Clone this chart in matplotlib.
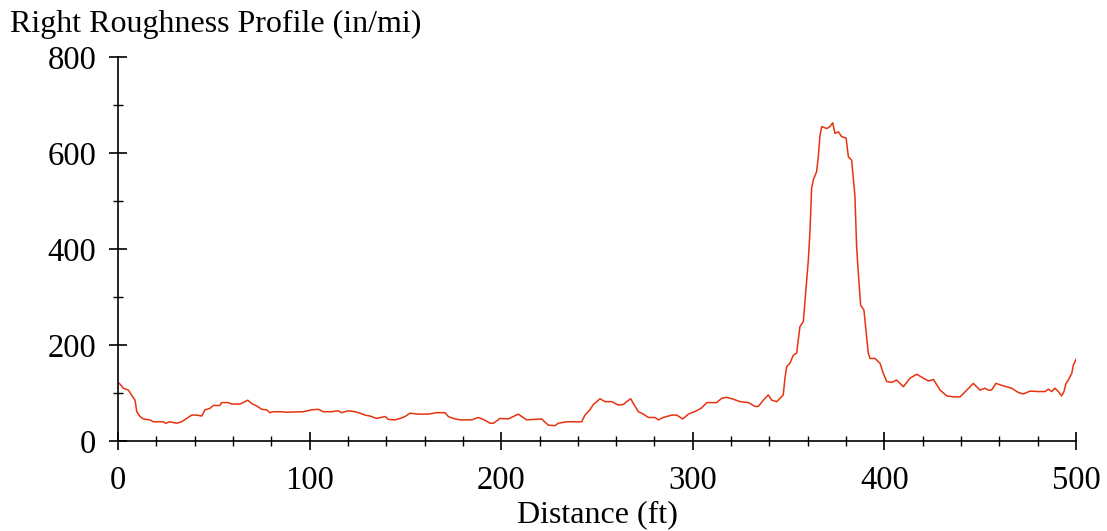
import matplotlib
matplotlib.use("Agg")
import matplotlib.pyplot as plt
from matplotlib.ticker import MultipleLocator

distance_ft = [0.7, 2.8, 5.4, 7.1, 8.9, 9.8, 11.5, 13.2, 16.7, 18.4, 23.6, 25.0, 27.1, 30.6, 33.2,
               35.8, 38.5, 41.0, 43.7, 45.4, 48.0, 49.7, 53.2, 54.1, 57.6, 59.3, 63.7, 66.3, 67.7,
               69.8, 72.4, 75.0, 77.6, 79.3, 81.0, 84.5, 88.0, 96.7, 101.1, 104.6, 107.2, 111.5,
               115.0, 116.7, 120.2, 123.7, 126.3, 128.9, 131.5, 135.0, 139.4, 141.1, 144.6, 147.2,
               149.8, 152.4, 156.7, 162.0, 166.3, 170.7, 172.4, 175.0, 178.5, 184.6, 188.0, 190.7,
               194.2, 195.9, 199.4, 203.7, 206.3, 208.9, 210.7, 213.3, 221.1, 224.6, 228.1, 229.8,
               234.2, 242.0, 243.7, 246.3, 248.1, 251.6, 254.2, 257.7, 261.1, 263.7, 265.5, 267.6,
               269.0, 271.6, 274.2, 276.8, 280.3, 282.0, 284.6, 289.0, 291.6, 294.7, 297.7, 302.0,
               304.6, 307.3, 312.4, 315.1, 317.7, 321.2, 324.6, 329.0, 332.5, 334.2, 336.8, 339.4,
               341.2, 343.8, 347.2, 348.1, 349.0, 350.7, 352.5, 354.2, 355.9, 357.7, 358.6, 360.3,
               361.2, 362.0, 362.9, 364.6, 365.5, 366.4, 367.3, 369.9, 371.6, 373.0, 374.2, 376.0,
               377.7, 380.0, 381.2, 382.9, 384.6, 385.5, 386.4, 387.6, 389.3, 390.4, 391.6, 392.5,
               395.1, 397.7, 399.4, 401.2, 403.8, 406.4, 409.9, 413.4, 416.9, 420.3, 423.0, 425.6,
               429.1, 432.5, 436.0, 439.5, 443.0, 446.4, 449.9, 452.5, 454.2, 455.9, 458.2, 462.0,
               466.4, 469.9, 472.5, 476.0, 480.3, 483.8, 485.6, 487.3, 489.0, 490.8, 492.5, 493.7,
               494.8, 496.0, 497.8, 498.6, 500.0]
roughness_in_mi = [120, 110, 106, 96, 85, 61, 51, 46, 44, 40, 40, 37, 40, 37, 40,
                   47, 54, 54, 52, 65, 68, 74, 74, 80, 80, 77, 77, 82, 85,
                   78, 73, 66, 65, 59, 61, 61, 60, 61, 65, 66, 61, 61,
                   63, 59, 63, 61, 58, 54, 52, 47, 51, 45, 44, 47,
                   51, 58, 56, 56, 59, 59, 51, 47, 44, 44, 49, 45,
                   37, 37, 47, 46, 51, 56, 51, 44, 46, 33, 32, 37,
                   40, 40, 54, 65, 76, 88, 82, 82, 75, 76, 82, 88,
                   78, 61, 56, 49, 49, 44, 49, 54, 54, 46, 56, 63,
                   69, 80, 80, 89, 91, 87, 82, 80, 72, 72, 85, 96,
                   85, 82, 96, 131, 155, 162, 179, 183, 238, 249, 294, 377,
                   440, 526, 544, 561, 592, 637, 655, 651, 655, 663, 641, 644,
                   634, 631, 592, 585, 512, 405, 349, 283, 273, 231, 183, 172,
                   172, 162, 141, 124, 122, 127, 113, 131, 139, 131, 125, 128,
                   106, 94, 92, 92, 106, 120, 106, 110, 106, 106, 120, 115,
                   110, 101, 98, 104, 103, 103, 108, 103, 110, 103, 94, 103,
                   120, 127, 141, 158, 170]

x_ticks = [0, 100, 200, 300, 400, 500]
y_ticks = [0, 200, 400, 600, 800]

fig = plt.figure(figsize=(11.07, 5.31), dpi=100)
W, H = 1107, 531
ax = fig.add_axes([118 / W, (H - 441) / H, (1076 - 118) / W, (441 - 57) / H])

ax.plot(distance_ft, roughness_in_mi, color="#e8320f", linewidth=1.1)

ax.set_xlim(0, 500)
ax.set_ylim(0, 800)
ax.set_xticks(x_ticks)
ax.set_yticks(y_ticks)
ax.xaxis.set_minor_locator(MultipleLocator(20))
ax.yaxis.set_minor_locator(MultipleLocator(100))

for s in ["top", "right"]:
    ax.spines[s].set_visible(False)
for s in ["left", "bottom"]:
    ax.spines[s].set_linewidth(1.2)

font = "Liberation Serif"
ax.tick_params(which="major", direction="inout", length=13, width=1.2, labelsize=23.5)
ax.tick_params(which="minor", direction="inout", length=7, width=1.0)
ax.tick_params(axis="y", which="major", pad=9)
ax.tick_params(axis="x", which="major", pad=11)
for lab in ax.get_xticklabels() + ax.get_yticklabels():
    lab.set_fontfamily(font)

fig.text(10 / W, 1 - 32 / H, "Right Roughness Profile (in/mi)", fontsize=23,
         family=font, ha="left", va="baseline")
fig.text(597 / W, 1 - 522 / H, "Distance (ft)", fontsize=23,
         family=font, ha="center", va="baseline")

fig.savefig("out.png", dpi=100)
